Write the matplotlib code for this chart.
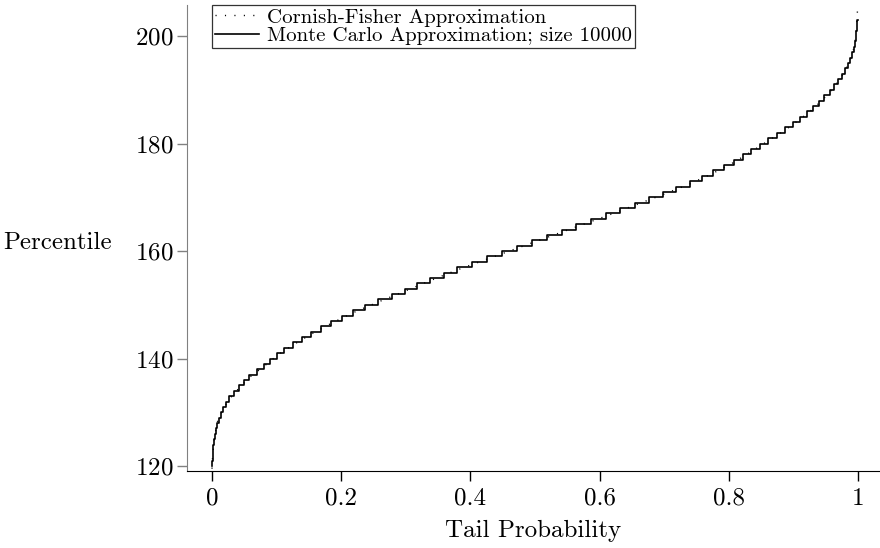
import matplotlib
matplotlib.use('Agg')
import matplotlib.pyplot as plt

plt.rcParams['font.family'] = ['cmr10', 'DejaVu Serif']
plt.rcParams['axes.formatter.use_mathtext'] = True
plt.rcParams['font.size'] = 18

# Monte Carlo percentiles: integer value and the tail probability where it starts
mc_value = [120, 121, 122, 123, 124, 125, 126, 127, 128, 129,
            130, 131, 132, 133, 134, 135, 136, 137, 138, 139,
            140, 141, 142, 143, 144, 145, 146, 147, 148, 149,
            150, 151, 152, 153, 154, 155, 156, 157, 158, 159,
            160, 161, 162, 163, 164, 165, 166, 167, 168, 169,
            170, 171, 172, 173, 174, 175, 176, 177, 178, 179,
            180, 181, 182, 183, 184, 185, 186, 187, 188, 189,
            190, 191, 192, 193, 194, 195, 196, 197, 198, 199,
            200, 201, 202, 203]
mc_prob = [0.000, 0.0005, 0.001, 0.0015, 0.002, 0.003, 0.005, 0.006, 0.008, 0.011,
           0.014, 0.017, 0.022, 0.027, 0.034, 0.042, 0.050, 0.058, 0.069, 0.080,
           0.090, 0.100, 0.112, 0.125, 0.139, 0.153, 0.168, 0.184, 0.201, 0.218,
           0.237, 0.257, 0.278, 0.298, 0.318, 0.338, 0.359, 0.380, 0.402, 0.426,
           0.449, 0.472, 0.495, 0.518, 0.541, 0.564, 0.587, 0.610, 0.632, 0.654,
           0.676, 0.698, 0.719, 0.740, 0.758, 0.776, 0.793, 0.808, 0.822, 0.835,
           0.848, 0.861, 0.874, 0.887, 0.899, 0.910, 0.921, 0.931, 0.940, 0.948,
           0.956, 0.963, 0.969, 0.975, 0.980, 0.984, 0.988, 0.991, 0.993, 0.995,
           0.9965, 0.9975, 0.9985, 0.999]
mc_end = 1.0

# Cornish-Fisher approximation of the same percentiles
cf_prob = [0.0, 0.001, 0.004, 0.009, 0.017, 0.027, 0.042, 0.058, 0.080, 0.100,
           0.125, 0.153, 0.184, 0.218, 0.257, 0.298, 0.338, 0.380, 0.426, 0.472,
           0.518, 0.564, 0.610, 0.654, 0.698, 0.740, 0.776, 0.808, 0.835, 0.861,
           0.887, 0.910, 0.931, 0.948, 0.963, 0.975, 0.984, 0.991, 0.995, 0.998, 1.0]
cf_value = [119.5, 122.0, 125.5, 128.5, 130.5, 132.5, 134.5, 136.5, 138.5, 140.5,
            142.5, 144.5, 146.5, 148.5, 150.5, 152.5, 154.5, 156.5, 158.5, 160.5,
            162.5, 164.5, 166.5, 168.5, 170.5, 172.5, 174.5, 176.5, 178.5, 180.5,
            182.5, 184.5, 186.5, 188.5, 190.5, 192.5, 194.5, 196.5, 198.5, 202.0, 207.0]

xticks = [0, 0.2, 0.4, 0.6, 0.8, 1]
xticklabels = ['0', '0.2', '0.4', '0.6', '0.8', '1']
yticks = [120, 140, 160, 180, 200]

fig = plt.figure(figsize=(8.8, 5.48), dpi=100)
ax = fig.add_axes([187 / 880, 1 - 471 / 548, 1 - 187 / 880, (471 - 5) / 548])

cf_line, = ax.plot(cf_prob, cf_value, color='black', lw=1.0, dashes=(0.8, 6),
                   label='Cornish-Fisher Approximation')
mc_line, = ax.step(mc_prob + [mc_end], mc_value + [mc_value[-1]], where='post',
                   color='black', lw=1.2,
                   label='Monte Carlo Approximation; size 10000')

ax.set_xlim(-0.0387, 1.034)
ax.set_ylim(119.07, 205.77)
ax.set_xticks(xticks)
ax.set_xticklabels(xticklabels)
ax.set_yticks(yticks)

for side in ['top', 'right']:
    ax.spines[side].set_visible(False)
ax.spines['left'].set_color('#808080')
ax.spines['bottom'].set_color('black')
ax.tick_params(axis='y', direction='out', length=7, width=1, color='#808080', pad=3)
ax.tick_params(axis='x', direction='out', length=7, width=1, color='black', pad=5)

ax.set_ylabel('Percentile', rotation=0, ha='right', va='center')
ax.yaxis.set_label_coords(-0.108, 0.489)
ax.set_xlabel('Tail Probability', va='center')
ax.xaxis.set_label_coords(0.5, -0.128)

leg = ax.legend(handles=[cf_line, mc_line], loc='upper left',
                bbox_to_anchor=(212 / 880, 1 - 5 / 548), bbox_transform=fig.transFigure,
                borderaxespad=0, fancybox=False, frameon=True, fontsize=15,
                handlelength=2.1, handletextpad=0.4, borderpad=0.15, labelspacing=0.0)
leg.get_frame().set_edgecolor('black')
leg.get_frame().set_linewidth(0.9)

fig.savefig('out.png', dpi=100)
